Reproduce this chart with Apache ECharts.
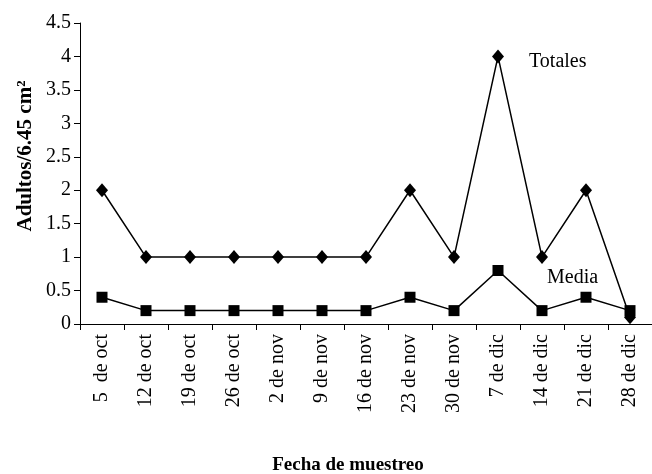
<!DOCTYPE html>
<html><head><meta charset="utf-8">
<script src="https://cdn.jsdelivr.net/npm/echarts@6/dist/echarts.min.js"></script>
<style>html,body{margin:0;padding:0;background:#fff}#c{width:652px;height:474px}</style>
</head><body><div id="c"></div>
<script>
const categories = ['5  de oct','12 de oct','19 de oct','26 de oct','2 de nov','9 de nov','16 de nov','23 de nov','30 de nov','7 de dic','14 de dic','21 de dic','28 de dic'];
const totales = [2,1,1,1,1,1,1,2,1,4,1,2,0.1];
const media = [0.4,0.2,0.2,0.2,0.2,0.2,0.2,0.4,0.2,0.8,0.2,0.4,0.2];
const yTicks = ['0','0.5','1','1.5','2','2.5','3','3.5','4','4.5'];
const font = '"Liberation Serif","Times New Roman",serif';
const chart = echarts.init(document.getElementById('c'));
chart.setOption({
  animation:false,
  grid:{left:80,right:0,top:23,bottom:150},
  xAxis:{type:'category',data:categories,boundaryGap:true,
    axisLine:{lineStyle:{color:'#000',width:1}},
    axisTick:{show:true,length:6,lineStyle:{color:'#000'}},
    axisLabel:{rotate:90,margin:10,color:'#000',fontFamily:font,fontSize:20}},
  yAxis:{type:'value',min:0,max:4.5,interval:0.5,
    axisLine:{show:true,lineStyle:{color:'#000',width:1}},
    axisTick:{show:true,length:6,lineStyle:{color:'#000'}},
    splitLine:{show:false},
    axisLabel:{margin:9,color:'#000',fontFamily:font,fontSize:20,
      formatter:(v)=>yTicks[Math.round(v/0.5)]}},
  series:[
    {name:'Totales',type:'line',data:totales,symbol:'diamond',symbolSize:[12,14],
      lineStyle:{color:'#000',width:1.5},itemStyle:{color:'#000'}},
    {name:'Media',type:'line',data:media,symbol:'rect',symbolSize:11,
      lineStyle:{color:'#000',width:1.5},itemStyle:{color:'#000'}}
  ],
  graphic:[
    {type:'text',x:529,y:62,style:{text:'Totales',font:'20px '+font,fill:'#000',textVerticalAlign:'middle'}},
    {type:'text',x:547,y:278,style:{text:'Media',font:'20px '+font,fill:'#000',textVerticalAlign:'middle'}},
    {type:'text',x:348,y:465,style:{text:'Fecha de muestreo',font:'bold 19px '+font,fill:'#000',textAlign:'center',textVerticalAlign:'middle'}},
    {type:'text',x:26,y:156,rotation:Math.PI/2,style:{text:'Adultos/6.45 cm²',font:'bold 21px '+font,fill:'#000',textAlign:'center',textVerticalAlign:'middle'}}
  ]
});
</script></body></html>
